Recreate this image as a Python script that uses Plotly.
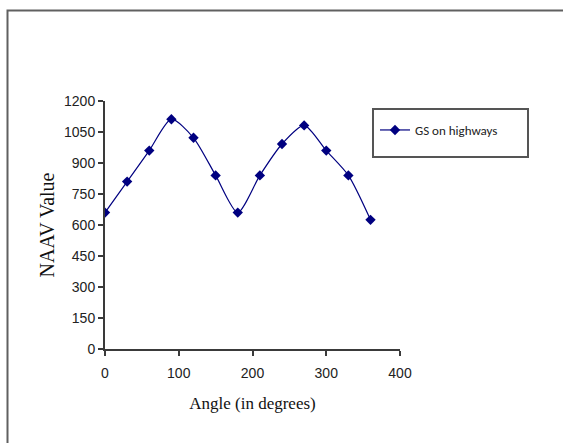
import plotly.graph_objects as go

angles = [0, 30, 60, 90, 120, 150, 180, 210, 240, 270, 300, 330, 360]
naav = [660, 810, 960, 1112, 1022, 840, 660, 840, 992, 1082, 960, 840, 625]
series_name = "GS on highways"
y_ticks = [0, 150, 300, 450, 600, 750, 900, 1050, 1200]
x_ticks = [0, 100, 200, 300, 400]

W, H = 563, 443
L, R, T, B = 105, 400, 101, 349  # plot area pixel edges


def px(x):
    return (x - L) / (R - L)


def py(y):
    return (B - y) / (B - T)


fig = go.Figure()
fig.add_trace(go.Scatter(
    x=angles, y=naav, name=series_name, mode="lines+markers",
    line=dict(color="#000080", width=1.2, shape="spline", smoothing=0.7),
    marker=dict(symbol="diamond", size=8, color="#000080"),
    showlegend=True,
))

axis_font = dict(family="Liberation Sans, Arial", size=14, color="#222222")
title_font = dict(family="Liberation Serif, Times New Roman", size=17, color="#111111")
fig.update_layout(
    width=W, height=H,
    margin=dict(l=L, r=W - R, t=T, b=H - B),
    paper_bgcolor="white", plot_bgcolor="white",
    xaxis=dict(
        range=[0, 400], tickvals=x_ticks, showgrid=False, zeroline=False,
        showline=True, linecolor="#3a3a3a", linewidth=2,
        ticks="outside", ticklen=5, tickcolor="#3a3a3a", tickwidth=1.5,
        tickfont=axis_font, ticklabelstandoff=5,
        title=dict(text="Angle (in degrees)", standoff=17, font=title_font),
    ),
    yaxis=dict(
        range=[0, 1200], tickvals=y_ticks, showgrid=False, zeroline=False,
        showline=True, linecolor="#3a3a3a", linewidth=2,
        ticks="outside", ticklen=5, tickcolor="#3a3a3a", tickwidth=1.5,
        tickfont=axis_font,
        title=dict(text="NAAV Value", standoff=4,
                   font=dict(family="Liberation Serif, Times New Roman", size=20, color="#111111")),
    ),
    legend=dict(
        x=px(375), y=py(115), xanchor="left", yanchor="top",
        bgcolor="rgba(0,0,0,0)", borderwidth=0,
        font=dict(family="Carlito, Liberation Sans, Arial", size=13, color="#222222"),
        itemwidth=30, tracegroupgap=0,
    ),
    showlegend=True,
    shapes=[
        dict(type="rect", xref="paper", yref="paper",
             x0=px(373), x1=px(528), y0=py(157), y1=py(109),
             line=dict(color="#555555", width=2), fillcolor="rgba(0,0,0,0)", layer="below"),
        dict(type="rect", xref="paper", yref="paper",
             x0=px(7.5), x1=px(600), y0=py(480), y1=py(10.5),
             line=dict(color="#606060", width=2), fillcolor="rgba(0,0,0,0)", layer="below"),
    ],
)

fig.write_html("out.html")
